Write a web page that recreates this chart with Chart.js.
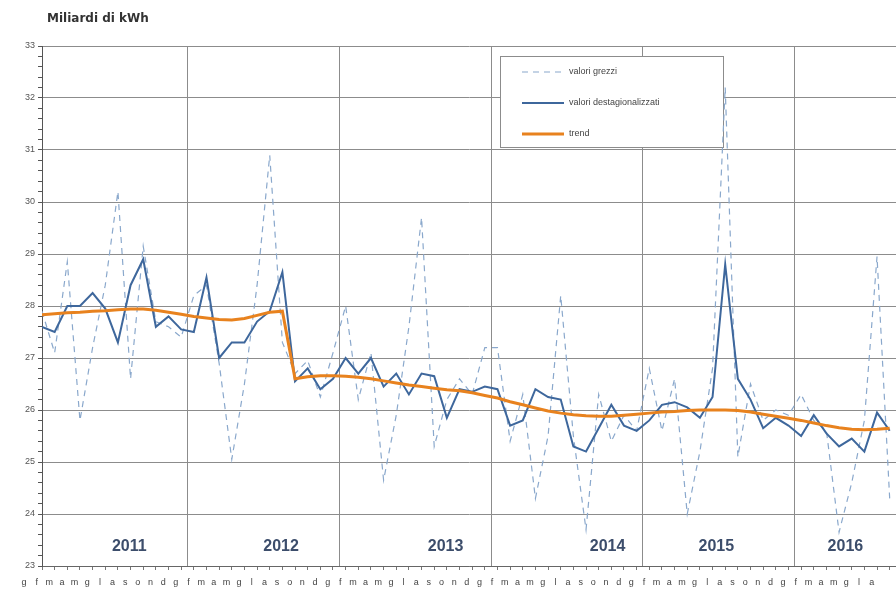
<!DOCTYPE html>
<html>
<head>
<meta charset="utf-8">
<script src="https://cdn.jsdelivr.net/npm/chart.js@4.4.1/dist/chart.umd.min.js"></script>
<style>
  html, body { margin: 0; padding: 0; background: #fff; overflow: hidden; }
</style>
</head>
<body>
<canvas id="myChart" width="896" height="596"></canvas>
<script>
// gennaio 2011 - agosto 2016, un valore al mese
var monthLetters = ['g', 'f', 'm', 'a', 'm', 'g', 'l', 'a', 's', 'o', 'n', 'd'];
var years = [2011, 2012, 2013, 2014, 2015, 2016];

var valoriGrezzi = [
    27.9, 27.1, 28.85, 25.8, 27.2, 28.4, 30.2, 26.6, 29.15, 27.7, 27.6, 27.4,
    28.2, 28.4, 26.9, 25.05, 26.5, 28.4, 30.9, 27.3, 26.7, 26.95, 26.25, 27.1,
    28.0, 26.2, 27.1, 24.65, 25.9, 27.6, 29.7, 25.3, 26.2, 26.6, 26.3, 27.2,
    27.2, 25.4, 26.3, 24.3, 25.5, 28.2, 25.5, 23.7, 26.3, 25.4, 25.9, 25.6,
    26.8, 25.6, 26.6, 24.0, 25.2, 26.8, 32.2, 25.1, 26.5, 25.8, 26.0, 25.9,
    26.3, 25.8, 25.6, 23.65, 24.6, 25.8, 28.95, 24.3
];

var valoriDest = [
    27.6, 27.5, 28.0, 28.0, 28.25, 27.95, 27.3, 28.4, 28.9, 27.6, 27.8, 27.55,
    27.5, 28.55, 27.0, 27.3, 27.3, 27.7, 27.9, 28.65, 26.55, 26.8, 26.4, 26.6,
    27.0, 26.7, 27.0, 26.45, 26.7, 26.3, 26.7, 26.65, 25.85, 26.4, 26.35, 26.45,
    26.4, 25.7, 25.8, 26.4, 26.25, 26.2, 25.3, 25.2, 25.65, 26.1, 25.7, 25.6,
    25.8, 26.1, 26.15, 26.05, 25.85, 26.25, 28.8, 26.6, 26.2, 25.65, 25.85, 25.7,
    25.5, 25.9, 25.55, 25.3, 25.45, 25.2, 25.95, 25.6
];

var trend = [
    27.83, 27.85, 27.87, 27.88, 27.9, 27.91, 27.93, 27.94, 27.94, 27.92, 27.88, 27.84,
    27.8, 27.77, 27.74, 27.73, 27.76, 27.82, 27.88, 27.9, 26.6, 26.64, 26.66, 26.66,
    26.65, 26.63, 26.6, 26.56, 26.52, 26.48, 26.45, 26.42, 26.39, 26.37, 26.33, 26.28,
    26.23, 26.16, 26.1, 26.04, 25.98, 25.94, 25.91, 25.89, 25.88, 25.88, 25.9, 25.92,
    25.94, 25.96, 25.97, 25.99, 26.0, 26.0, 26.0, 25.99, 25.96, 25.92, 25.88, 25.84,
    25.8, 25.75, 25.7, 25.66, 25.63, 25.62, 25.63, 25.65
];

// dove stanno le scritte degli anni (mesi dall'inizio, valore y)
var yearLabelAt = [6.9, 18.9, 31.9, 44.7, 53.3, 63.5];
var yearLabelY = 23.38;

var nMonths = valoriGrezzi.length;

function toPoints(arr) {
    var pts = [];
    for (var i = 0; i < arr.length; i++) {
        pts.push({ x: i, y: arr[i] });
    }
    return pts;
}

function isWhole(v) {
    return Math.abs(v - Math.round(v)) < 0.001;
}

function isYearLine(v) {
    return !isWhole(v);
}

var titlePlugin = {
    id: 'titlePlugin',
    afterDraw: function(chart) {
        var ctx = chart.ctx;
        ctx.save();
        ctx.font = 'bold 12px "DejaVu Sans", sans-serif';
        ctx.fillStyle = '#333';
        ctx.textBaseline = 'middle';
        ctx.fillText('Miliardi di kWh', 47, 19);
        ctx.restore();
    }
};

var legendBox = {
    id: 'legendBox',
    beforeDatasetsDraw: function(chart) {
        var ctx = chart.ctx;
        ctx.save();
        ctx.fillStyle = '#fff';
        ctx.fillRect(500, 56, 224, 92);
        ctx.strokeStyle = '#8c8c8c';
        ctx.lineWidth = 1;
        ctx.strokeRect(500.5, 56.5, 223, 91);
        chart.data.datasets.forEach(function(ds, i) {
            var y = 72 + i * 31;
            ctx.beginPath();
            ctx.setLineDash(ds.borderDash || []);
            ctx.strokeStyle = ds.borderColor;
            ctx.lineWidth = ds.borderWidth;
            ctx.moveTo(522, y);
            ctx.lineTo(564, y);
            ctx.stroke();
            ctx.setLineDash([]);
            ctx.fillStyle = '#444';
            ctx.font = '9px "Liberation Sans", Arial, sans-serif';
            ctx.textBaseline = 'middle';
            ctx.fillText(ds.label, 569, y);
        });
        ctx.restore();
    }
};

var yearText = {
    id: 'yearText',
    afterDatasetsDraw: function(chart) {
        var xs = chart.scales.x, ys = chart.scales.y, ctx = chart.ctx;
        ctx.save();
        ctx.font = 'bold 16px "Liberation Sans", Arial, sans-serif';
        ctx.fillStyle = '#3c4d6b';
        ctx.textAlign = 'center';
        ctx.textBaseline = 'middle';
        years.forEach(function(yr, i) {
            ctx.fillText(String(yr), xs.getPixelForValue(yearLabelAt[i]), ys.getPixelForValue(yearLabelY));
        });
        ctx.restore();
    }
};

var data = {
    datasets: [{
        label: 'valori grezzi',
        data: toPoints(valoriGrezzi),
        borderColor: '#8aa8cc',
        borderWidth: 1.2,
        borderDash: [6, 5],
        pointRadius: 0,
        order: 2
    }, {
        label: 'valori destagionalizzati',
        data: toPoints(valoriDest),
        borderColor: '#3e679c',
        borderWidth: 2,
        pointRadius: 0,
        order: 1
    }, {
        label: 'trend',
        data: toPoints(trend),
        borderColor: '#e8821e',
        borderWidth: 3,
        pointRadius: 0,
        order: 0
    }]
};

var config = {
    type: 'line',
    data: data,
    options: {
        responsive: false,
        animation: false,
        layout: { padding: { top: 46, left: 0, right: 0, bottom: 0 } },
        plugins: {
            legend: { display: false },
            tooltip: { enabled: false }
        },
        scales: {
            x: {
                type: 'linear',
                min: 0,
                max: 67.5,
                afterBuildTicks: function(scale) {
                    var t = [];
                    for (var i = 0; i < nMonths; i++) t.push({ value: i });
                    for (var k = 1; k < years.length; k++) t.push({ value: k * 12 - 0.5 });
                    t.sort(function(a, b) { return a.value - b.value; });
                    scale.ticks = t;
                },
                afterFit: function(scale) {
                    scale.height = 30;
                    scale.paddingLeft = 0;
                    scale.paddingRight = 0;
                },
                ticks: {
                    autoSkip: false,
                    maxRotation: 0,
                    minRotation: 0,
                    labelOffset: -18,
                    padding: 7,
                    color: '#444',
                    font: { size: 9, family: '"Liberation Sans", Arial, sans-serif' },
                    callback: function(v) {
                        return isWhole(v) ? monthLetters[Math.round(v) % 12] : '';
                    }
                },
                grid: {
                    color: function(ctx) {
                        return ctx.tick && isYearLine(ctx.tick.value) ? '#8c8c8c' : 'rgba(0,0,0,0)';
                    },
                    tickColor: function(ctx) {
                        return ctx.tick && isWhole(ctx.tick.value) ? '#777' : 'rgba(0,0,0,0)';
                    },
                    tickLength: 4
                },
                border: { color: '#666' }
            },
            y: {
                type: 'linear',
                min: 23,
                max: 33,
                afterBuildTicks: function(scale) {
                    var t = [];
                    for (var i = 0; i <= 50; i++) t.push({ value: Math.round((23 + i * 0.2) * 10) / 10 });
                    scale.ticks = t;
                },
                afterFit: function(scale) {
                    scale.width = 42;
                    scale.paddingTop = 0;
                    scale.paddingBottom = 0;
                },
                ticks: {
                    autoSkip: false,
                    padding: 3,
                    color: '#555',
                    font: { size: 9, family: '"Liberation Sans", Arial, sans-serif' },
                    callback: function(v) {
                        return isWhole(v) ? String(Math.round(v)) : '';
                    }
                },
                grid: {
                    color: function(ctx) {
                        return ctx.tick && isWhole(ctx.tick.value) ? '#8c8c8c' : 'rgba(0,0,0,0)';
                    },
                    tickColor: '#555',
                    tickLength: 4
                },
                border: { color: '#555' }
            }
        }
    },
    plugins: [titlePlugin, legendBox, yearText]
};

var myChart = new Chart(document.getElementById('myChart'), config);
</script>
</body>
</html>
